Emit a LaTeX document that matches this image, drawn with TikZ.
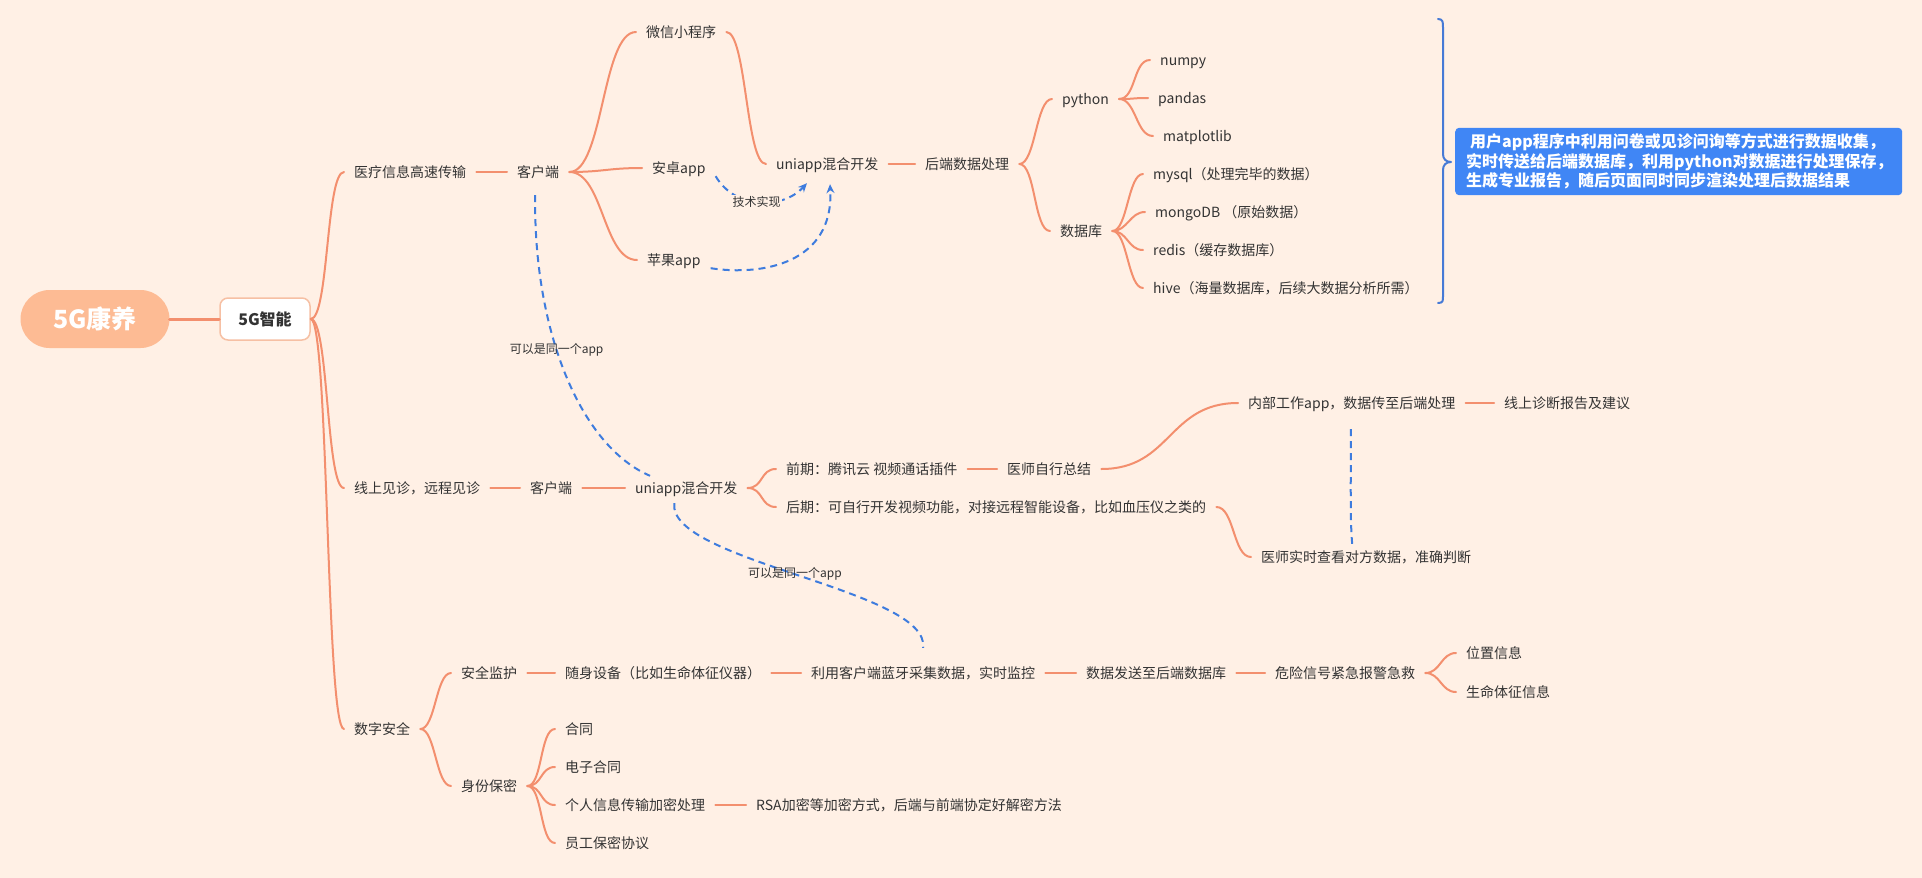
\documentclass[tikz,border=0pt]{standalone}
\usepackage{fontspec}
\setmainfont{Noto Sans CJK SC}
\usetikzlibrary{calc,arrows.meta}

\definecolor{bg}{RGB}{255,240,229}
\definecolor{ink}{RGB}{51,51,51}
\definecolor{branch}{RGB}{243,143,110}
\definecolor{rootfill}{RGB}{253,187,148}
\definecolor{hubline}{RGB}{246,192,164}
\definecolor{relc}{RGB}{62,124,222}
\definecolor{bracec}{RGB}{70,122,214}
\definecolor{notefill}{RGB}{64,134,245}

\begin{document}
\begin{tikzpicture}[x=1pt,y=-1pt,
  txt/.style={anchor=west, inner xsep=10pt, inner ysep=2pt, text height=11pt, text depth=1pt,
    font=\fontsize{14pt}{16pt}\selectfont, text=ink},
  small/.style={inner sep=1pt, font=\fontsize{12pt}{14pt}\selectfont, text=ink},
  link/.style={draw=branch, line width=2pt, line cap=round},
  rel/.style={draw=relc, line width=2pt, dash pattern=on 7pt off 5pt},
  relarrow/.style={rel, -{Stealth[length=9pt,width=8pt]}},
  bracket/.style={draw=bracec, line width=2pt, line cap=round, line join=round}
]
\useasboundingbox (0,0) rectangle (1922,878);
\fill[bg] (0,0) rectangle (1922,878);

% central topic and hub
\node[fill=rootfill, rounded corners=29pt, minimum width=149pt, minimum height=58pt,
  text=white, font=\fontsize{25pt}{28pt}\selectfont\bfseries] (root) at (95,319) {5G康养};
\node[fill=white, draw=hubline, line width=1.5pt, rounded corners=8pt, minimum width=90pt,
  minimum height=42pt, text=ink, font=\fontsize{16pt}{18pt}\selectfont\bfseries] (hub) at (265,319) {5G智能};
\draw[link, line width=3pt] (root.east) -- (hub.west);

% ---- branch: data transfer
\node[txt] (med) at (344,172) {医疗信息高速传输};
\node[txt] (cli1) at (507,172) {客户端};
\node[txt] (wx) at (636,32) {微信小程序};
\node[txt] (andr) at (642,168) {安卓app};
\node[txt] (ios) at (637,260) {苹果app};
\node[txt] (uni1) at (766,164) {uniapp混合开发};
\node[txt] (back) at (915,164) {后端数据处理};
\node[txt] (py) at (1052,99) {python};
\node[txt] (np) at (1150,60) {numpy};
\node[txt] (pd) at (1148,98) {pandas};
\node[txt] (mpl) at (1153,136) {matplotlib};
\node[txt] (db) at (1050,231) {数据库};
\node[txt] (mysql) at (1143,174) {mysql（处理完毕的数据）};
\node[txt] (mongo) at (1145,212) {mongoDB （原始数据）};
\node[txt] (redis) at (1143,250) {redis（缓存数据库）};
\node[txt] (hive) at (1143,288) {hive（海量数据库，后续大数据分析所需）};

\draw[link] (hub.east) .. controls +(18,0) and +(-18,0) .. (med.west);
\draw[link] (med.east) -- (cli1.west);
\draw[link] (cli1.east) .. controls +(34,0) and +(-34,0) .. (wx.west);
\draw[link] (cli1.east) .. controls +(34,0) and +(-34,0) .. (andr.west);
\draw[link] (cli1.east) .. controls +(34,0) and +(-34,0) .. (ios.west);
\draw[link] (wx.east) .. controls +(20,0) and +(-20,0) .. (uni1.west);
\draw[link] (uni1.east) -- (back.west);
\draw[link] (back.east) .. controls +(16,0) and +(-16,0) .. (py.west);
\draw[link] (back.east) .. controls +(16,0) and +(-16,0) .. (db.west);
\draw[link] (py.east) .. controls +(17,0) and +(-17,0) .. (np.west);
\draw[link] (py.east) .. controls +(17,0) and +(-17,0) .. (pd.west);
\draw[link] (py.east) .. controls +(17,0) and +(-17,0) .. (mpl.west);
\draw[link] (db.east) .. controls +(15,0) and +(-15,0) .. (mysql.west);
\draw[link] (db.east) .. controls +(15,0) and +(-15,0) .. (mongo.west);
\draw[link] (db.east) .. controls +(15,0) and +(-15,0) .. (redis.west);
\draw[link] (db.east) .. controls +(15,0) and +(-15,0) .. (hive.west);

% summary brace and note
\draw[bracket] (1438,19) .. controls (1443,19) and (1443,22) .. (1443,28) -- (1443,154)
  .. controls (1443,159) and (1446,162) .. (1451,162)
  .. controls (1446,162) and (1443,165) .. (1443,170) -- (1443,296)
  .. controls (1443,301) and (1443,303) .. (1438,303);
\node[anchor=west, fill=notefill, rounded corners=4pt, text width=425pt, inner xsep=11pt,
  inner ysep=6pt, minimum height=67pt, align=left, text=white,
  font=\fontsize{16pt}{19.5pt}\selectfont\bfseries] (note) at (1455,161.5)
  {\hspace{4pt}用户app程序中利用问卷或见诊问询等方式进行数据收集，\\实时传送给后端数据库，利用python对数据进行处理保存，\\生成专业报告，随后页面同时同步渲染处理后数据结果};

% ---- branch: remote consultation
\node[txt] (online) at (344,488) {线上见诊，远程见诊};
\node[txt] (cli2) at (520,488) {客户端};
\node[txt] (uni2) at (625,488) {uniapp混合开发};
\node[txt] (early) at (776,469) {前期：腾讯云 视频通话插件};
\node[txt] (late) at (776,507) {后期：可自行开发视频功能，对接远程智能设备，比如血压仪之类的};
\node[txt] (summ) at (997,469) {医师自行总结};
\node[txt] (inner) at (1238,403) {内部工作app，数据传至后端处理};
\node[txt] (report) at (1494,403) {线上诊断报告及建议};
\node[txt] (live) at (1251,557) {医师实时查看对方数据，准确判断};

\draw[link] (hub.east) .. controls +(18,0) and +(-18,0) .. (online.west);
\draw[link] (online.east) -- (cli2.west);
\draw[link] (cli2.east) -- (uni2.west);
\draw[link] (uni2.east) .. controls +(16,0) and +(-16,0) .. (early.west);
\draw[link] (uni2.east) .. controls +(16,0) and +(-16,0) .. (late.west);
\draw[link] (early.east) -- (summ.west);
\draw[link] (summ.east) .. controls +(70,0) and +(-70,0) .. (inner.west);
\draw[link] (inner.east) -- (report.west);
\draw[link] (late.east) .. controls +(18,0) and +(-18,0) .. (live.west);

% ---- branch: digital security
\node[txt] (sec) at (344,729) {数字安全};
\node[txt] (guard) at (451,673) {安全监护};
\node[txt] (wear) at (555,673) {随身设备（比如生命体征仪器）};
\node[txt] (bt) at (801,673) {利用客户端蓝牙采集数据，实时监控};
\node[txt] (send) at (1076,673) {数据发送至后端数据库};
\node[txt] (alarm) at (1265,673) {危险信号紧急报警急救};
\node[txt] (loc) at (1456,653) {位置信息};
\node[txt] (vital) at (1456,692) {生命体征信息};
\node[txt] (priv) at (451,786) {身份保密};
\node[txt] (contract) at (555,729) {合同};
\node[txt] (econtract) at (555,767) {电子合同};
\node[txt] (crypt) at (555,805) {个人信息传输加密处理};
\node[txt] (rsa) at (746,805) {RSA加密等加密方式，后端与前端协定好解密方法};
\node[txt] (nda) at (555,843) {员工保密协议};

\draw[link] (hub.east) .. controls +(18,0) and +(-18,0) .. (sec.west);
\draw[link] (sec.east) .. controls +(15,0) and +(-15,0) .. (guard.west);
\draw[link] (sec.east) .. controls +(15,0) and +(-15,0) .. (priv.west);
\draw[link] (guard.east) -- (wear.west);
\draw[link] (wear.east) -- (bt.west);
\draw[link] (bt.east) -- (send.west);
\draw[link] (send.east) -- (alarm.west);
\draw[link] (alarm.east) .. controls +(15,0) and +(-15,0) .. (loc.west);
\draw[link] (alarm.east) .. controls +(15,0) and +(-15,0) .. (vital.west);
\draw[link] (priv.east) .. controls +(15,0) and +(-15,0) .. (contract.west);
\draw[link] (priv.east) .. controls +(15,0) and +(-15,0) .. (econtract.west);
\draw[link] (priv.east) .. controls +(15,0) and +(-15,0) .. (crypt.west);
\draw[link] (priv.east) .. controls +(15,0) and +(-15,0) .. (nda.west);
\draw[link] (crypt.east) -- (rsa.west);

% ---- relationships
\draw[relarrow] (andr.south east) .. controls +(20,34) and +(-24,26) .. ($(uni1.south west)+(41,11)$)
  node[small, pos=0.47, fill=bg] (tech) {技术实现};
\draw[relarrow] (ios.south east) .. controls +(52,8) and +(4,79) .. ($(uni1.south west)+(64,12)$);
\draw[rel] ($(cli1.south)+(-3,15)$) .. controls +(-2,135) and +(-70,-30) .. ($(uni2.north west)+(25,-4)$)
  node[small, pos=0.42] (same1) {可以是同一个app};
\draw[rel] ($(uni2.south)+(-12,7)$) .. controls +(-7,58) and +(7,-58) .. ($(bt.north)+(0,-17)$)
  node[small, pos=0.49] (same2) {可以是同一个app};
\draw[rel] ($(inner.south)+(-1,18)$) .. controls +(0,60) and +(-2,-20) .. ($(live.north)+(-14,-5)$);
\end{tikzpicture}
\end{document}
